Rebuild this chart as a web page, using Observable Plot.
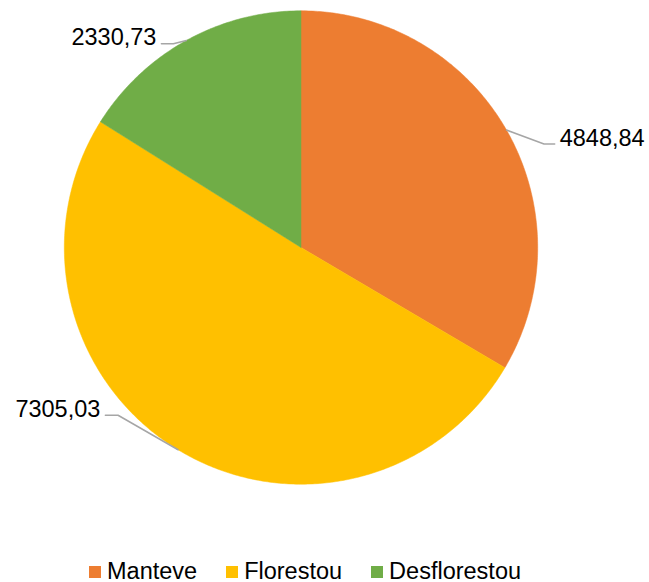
<!DOCTYPE html>
<html>
<head>
<meta charset="utf-8">
<script src="https://cdn.jsdelivr.net/npm/d3@7"></script>
<script src="https://cdn.jsdelivr.net/npm/@observablehq/plot@0.6"></script>
<style>
  html, body { margin: 0; padding: 0; background: #fff; }
  body { width: 649px; height: 582px; position: relative; overflow: hidden; font-family: "Liberation Sans", Arial, sans-serif; }
  #chart { position: absolute; left: 0; top: 0; }
  #legend { position: absolute; left: 89px; top: 561px; height: 20px; display: flex; align-items: center; font-size: 23.5px; line-height: 20px; color: #000; }
  .item { display: flex; align-items: center; margin-right: 29px; }
  .sw { width: 12px; height: 12px; margin-right: 6px; margin-top: 2px; }
</style>
</head>
<body>
<div id="chart"></div>
<div id="legend"></div>
<script>
// ---- data ----
const categories = ["Manteve", "Florestou", "Desflorestou"];
const values = [4848.84, 7305.03, 2330.73];
const valueLabels = ["4848,84", "7305,03", "2330,73"];
const colors = ["#ED7D31", "#FFC000", "#70AD47"];
// leader-line layout (pixels relative to slice rim point): elbow offset and horizontal run
const leaderElbow = [[37.5, 14], [-60, -34.5], [-13, 3.4]];
const leaderRun = [10.7, -12.7, -12];

// ---- geometry ----
const rows = categories.map((c, i) => ({category: c, value: values[i], label: valueLabels[i], i}));
const arcs = d3.pie().sort(null).value(d => d.value)(rows);

const W = 649, H = 540;
const cx = 300.5, cy = 247, R = 236.7;
const mL = cx - R, mR = W - (cx + R), mT = cy - R, mB = H - (cy + R);
const pxPerUnit = R;

const slicePts = [];
for (const a of arcs) {
  const n = Math.max(2, Math.ceil((a.endAngle - a.startAngle) / 0.01));
  slicePts.push({x: 0, y: 0, category: a.data.category});
  for (let k = 0; k <= n; k++) {
    const t = a.startAngle + (a.endAngle - a.startAngle) * k / n;
    slicePts.push({x: Math.sin(t), y: Math.cos(t), category: a.data.category});
  }
  slicePts.push({x: 0, y: 0, category: a.data.category});
}

const leaderPts = [];
const labelPts = [];
for (const a of arcs) {
  const i = a.data.i;
  const m = (a.startAngle + a.endAngle) / 2;
  const rx = Math.sin(m), ry = Math.cos(m);
  const ex = rx + leaderElbow[i][0] / pxPerUnit, ey = ry - leaderElbow[i][1] / pxPerUnit;
  const fx = ex + leaderRun[i] / pxPerUnit, fy = ey;
  leaderPts.push({x: rx, y: ry, k: i}, {x: ex, y: ey, k: i}, {x: fx, y: fy, k: i});
  labelPts.push({x: fx, y: fy, label: a.data.label, anchor: leaderRun[i] > 0 ? "start" : "end"});
}

const chart = Plot.plot({
  width: W, height: H,
  marginLeft: mL, marginRight: mR, marginTop: mT, marginBottom: mB,
  x: {domain: [-1, 1], axis: null},
  y: {domain: [-1, 1], axis: null},
  color: {domain: categories, range: colors},
  style: {fontFamily: "Liberation Sans, Arial, sans-serif", background: "#fff"},
  marks: [
    Plot.line(slicePts, {x: "x", y: "y", z: "category", fill: "category", stroke: "category", strokeWidth: 0.5, curve: "linear"}),
    Plot.line(leaderPts, {x: "x", y: "y", z: "k", stroke: "#A6A6A6", strokeWidth: 1.5}),
    Plot.text(labelPts.filter(d => d.anchor === "start"), {x: "x", y: "y", text: "label", textAnchor: "start", lineAnchor: "bottom", dx: 5, dy: 1.5, fontSize: 23.5, fill: "#000"}),
    Plot.text(labelPts.filter(d => d.anchor === "end"), {x: "x", y: "y", text: "label", textAnchor: "end", lineAnchor: "bottom", dx: -5, dy: 1.5, fontSize: 23.5, fill: "#000"})
  ]
});
document.getElementById("chart").append(chart);

const legend = document.getElementById("legend");
categories.forEach((c, i) => {
  const it = document.createElement("div");
  it.className = "item";
  const sw = document.createElement("div");
  sw.className = "sw";
  sw.style.background = colors[i];
  const tx = document.createElement("span");
  tx.textContent = c;
  it.append(sw, tx);
  legend.append(it);
});
</script>
</body>
</html>
